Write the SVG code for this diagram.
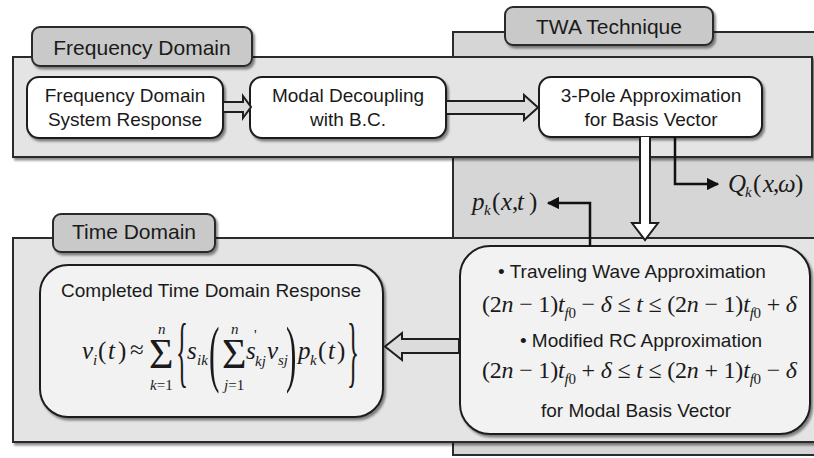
<svg xmlns="http://www.w3.org/2000/svg" width="814" height="458" viewBox="0 0 814 458">
<defs>
<style>
.panel{fill:#e4e4e4;stroke:#2b2b2b;stroke-width:2}
.twa{fill:#d6d6d6;stroke:#2b2b2b;stroke-width:2}
.tab{fill:#c9c9c9;stroke:#2b2b2b;stroke-width:2}
.box{fill:#ffffff;stroke:#1e1e1e;stroke-width:2}
.tbox{fill:#f2f2f2;stroke:#1e1e1e;stroke-width:2}
.t{font-family:"Liberation Sans",Arial,sans-serif;font-size:19px;fill:#1a1a1a;text-anchor:middle}
.tt{font-family:"Liberation Sans",Arial,sans-serif;font-size:21px;fill:#1a1a1a;text-anchor:middle}
.m{font-family:"Liberation Serif","Times New Roman",serif;font-size:25px;fill:#1a1a1a}
.mm{font-size:24px}
.L{font-size:25px}
.sig{font-size:42px}
.i{font-style:italic}
.s{font-size:15px}
.blk{fill:#dcdcdc;stroke:#1e1e1e;stroke-width:2;stroke-linejoin:miter}
.wblk{fill:#ffffff;stroke:#1e1e1e;stroke-width:2}
.ln{fill:none;stroke:#111;stroke-width:2.5}
</style>
<filter id="sh" x="-10%" y="-10%" width="130%" height="140%">
<feDropShadow dx="2" dy="2.5" stdDeviation="1.2" flood-color="#000" flood-opacity="0.45"/>
</filter>
<marker id="ah" viewBox="0 0 10 10" refX="9" refY="5" markerWidth="5" markerHeight="5" orient="auto" markerUnits="strokeWidth">
<path d="M0,0 L10,5 L0,10 Z" fill="#111"/>
</marker>
</defs>
<rect width="814" height="458" fill="#ffffff"/>

<g id="twa-panel">
<rect class="twa" x="453" y="32" width="380" height="423"/>
<rect class="tab" x="505" y="7" width="208" height="38" rx="8" filter="url(#sh)"/>
<text class="tt" x="609" y="34">TWA Technique</text>
</g>

<g id="frequency-panel">
<rect class="panel" x="13" y="57" width="799" height="100" filter="url(#sh)"/>
<rect class="tab" x="32" y="27" width="220" height="39" rx="8" filter="url(#sh)"/>
<text class="tt" x="142" y="55">Frequency Domain</text>
</g>

<g id="time-panel">
<rect class="panel" x="13" y="238" width="820" height="204" filter="url(#sh)"/>
<rect class="tab" x="53" y="214" width="162" height="38" rx="8" filter="url(#sh)"/>
<text class="tt" x="134" y="239">Time Domain</text>
</g>

<g id="freq-response">
<rect class="box" x="27" y="77" width="196" height="61" rx="12" filter="url(#sh)"/>
<text class="t" x="125" y="102">Frequency Domain</text>
<text class="t" x="125" y="126">System Response</text>
</g>

<g id="modal-decoupling">
<rect class="box" x="250" y="77" width="196" height="61" rx="12" filter="url(#sh)"/>
<text class="t" x="348" y="102">Modal Decoupling</text>
<text class="t" x="348" y="126">with B.C.</text>
</g>

<g id="three-pole">
<rect class="box" x="539" y="77" width="223" height="60" rx="12" filter="url(#sh)"/>
<text class="t" x="651" y="102">3-Pole Approximation</text>
<text class="t" x="651" y="126">for Basis Vector</text>
</g>

<g id="completed-response">
<rect class="tbox" x="40" y="265" width="343" height="152" rx="28" filter="url(#sh)"/>
<text class="t" x="211" y="297">Completed Time Domain Response</text>
<g>
<text class="m i" x="82" y="359">v</text>
<text class="m i s" x="93" y="365">i</text>
<text class="m" x="98" y="359">(</text>
<text class="m i" x="108" y="359">t</text>
<text class="m" x="118" y="359">)</text>
<text class="m" x="130" y="358">≈</text>
<text class="m sig" x="149" y="368">Σ</text>
<text class="m i s" x="158" y="334">n</text>
<text class="m s" x="150" y="390"><tspan class="i">k</tspan>=1</text>
<text class="m" transform="translate(176,378) scale(1,3.15)">{</text>
<text class="m i" x="187" y="359">s</text>
<text class="m i s" x="197" y="365">ik</text>
<text class="m" transform="translate(209,378) scale(1.25,3.0)">(</text>
<text class="m sig" x="222" y="368">Σ</text>
<text class="m i s" x="231" y="334">n</text>
<text class="m s" x="224" y="390"><tspan class="i">j</tspan>=1</text>
<text class="m i" x="246" y="359">s</text>
<text class="m s" x="254" y="340">'</text>
<text class="m i s" x="255" y="366">kj</text>
<text class="m i" x="267" y="359">v</text>
<text class="m i s" x="278" y="365">sj</text>
<text class="m" transform="translate(286,378) scale(1.25,3.0)">)</text>
<text class="m i" x="298" y="359">p</text>
<text class="m i s" x="310" y="365">k</text>
<text class="m" x="318" y="359">(</text>
<text class="m i" x="328" y="359">t</text>
<text class="m" x="337" y="359">)</text>
<text class="m" transform="translate(347,378) scale(1,3.15)">}</text>
</g>
</g>

<g id="twa-box">
<rect class="tbox" x="460" y="246" width="350" height="188" rx="30" filter="url(#sh)"/>
<text class="t" x="632" y="278">• Traveling Wave Approximation</text>
<text class="m mm" x="482" y="312" textLength="315">(2<tspan class="i">n</tspan> − 1)<tspan class="i">t</tspan><tspan class="i s" dy="6">f</tspan><tspan class="s">0</tspan><tspan dy="-6"> − </tspan><tspan class="i">δ</tspan> ≤ <tspan class="i">t</tspan> ≤ (2<tspan class="i">n</tspan> − 1)<tspan class="i">t</tspan><tspan class="i s" dy="6">f</tspan><tspan class="s">0</tspan><tspan dy="-6"> + </tspan><tspan class="i">δ</tspan></text>
<text class="t" x="641" y="347">• Modified RC Approximation</text>
<text class="m mm" x="482" y="378" textLength="315">(2<tspan class="i">n</tspan> − 1)<tspan class="i">t</tspan><tspan class="i s" dy="6">f</tspan><tspan class="s">0</tspan><tspan dy="-6"> + </tspan><tspan class="i">δ</tspan> ≤ <tspan class="i">t</tspan> ≤ (2<tspan class="i">n</tspan> + 1)<tspan class="i">t</tspan><tspan class="i s" dy="6">f</tspan><tspan class="s">0</tspan><tspan dy="-6"> − </tspan><tspan class="i">δ</tspan></text>
<text class="t" x="636" y="417">for Modal Basis Vector</text>
</g>

<g id="labels">
<text class="m i L" x="728" y="192">Q</text>
<text class="m i s" x="745" y="197">k</text>
<text class="m L" x="753" y="192">(</text>
<text class="m i L" x="763" y="192">x</text>
<text class="m L" x="773" y="192">,</text>
<text class="m i L" x="778" y="192">ω</text>
<text class="m L" x="795" y="192">)</text>
<text class="m i L" x="472" y="210">p</text>
<text class="m i s" x="484" y="215">k</text>
<text class="m L" x="492" y="210">(</text>
<text class="m i L" x="501" y="210">x</text>
<text class="m L" x="512" y="210">,</text>
<text class="m i L" x="517" y="210">t</text>
<text class="m L" x="529" y="210">)</text>
</g>

<g id="connectors">
<path class="blk" d="M223,102 L243,102 L243,96 L251,107 L243,118 L243,112 L223,112 Z"/>
<path class="blk" d="M446,101 L524,101 L524,95 L538,107.5 L524,120 L524,114 L446,114 Z"/>
<path class="wblk" d="M640,137 L640,223 L632,223 L645,240 L658,223 L650,223 L650,137"/>
<path class="blk" d="M459,339 L402,339 L402,333 L385,346.5 L402,360 L402,353 L459,353 Z"/>
<path class="ln" d="M675,137 L675,184 L718,184" marker-end="url(#ah)"/>
<path class="ln" d="M590,246 L590,203 L548,203" marker-end="url(#ah)"/>
</g>
</svg>
